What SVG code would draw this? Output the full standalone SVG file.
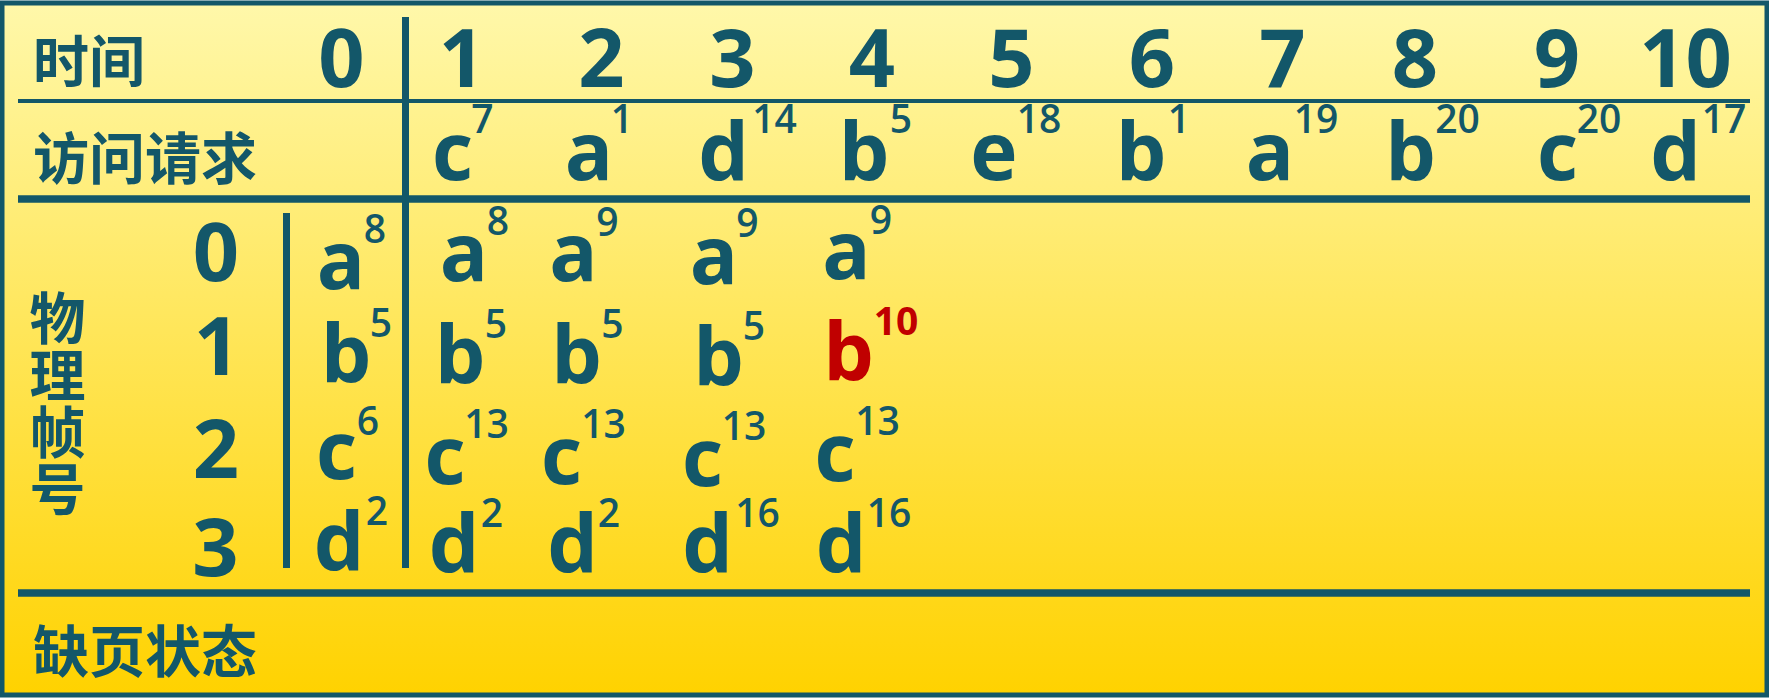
<svg xmlns="http://www.w3.org/2000/svg" width="1769" height="698" viewBox="0 0 1769 698">
<defs>
<linearGradient id="bg" x1="0" y1="0" x2="0" y2="1">
<stop offset="0" stop-color="#FFF8AA"/>
<stop offset="1" stop-color="#FFD200"/>
</linearGradient>
<style>
.ln{stroke:#135769;fill:none}
.t{fill:#135769;font-family:"Open Sans","Liberation Sans",sans-serif;font-weight:700;text-anchor:middle}
.L{font-size:80px}
.D{font-size:81px}
.s{font-size:39px;font-weight:600}
.r{fill:#C00000}
.rs{font-weight:700}
.cjk{fill:#135769;font-family:"Noto Sans CJK SC","Noto Sans CJK TC",sans-serif;font-size:56px;font-weight:700}
.vt{writing-mode:vertical-rl;letter-spacing:1px}
</style>
</defs>
<rect id="frame" x="2" y="3" width="1765" height="692" fill="url(#bg)" stroke="#135769" stroke-width="5"/>
<g id="connectors">
<line class="ln" x1="18" y1="101" x2="1750" y2="101" stroke-width="4"/>
<line class="ln" x1="18" y1="199" x2="1750" y2="199" stroke-width="7.5"/>
<line class="ln" x1="18" y1="593" x2="1750" y2="593" stroke-width="7.5"/>
<line class="ln" x1="405.5" y1="17" x2="405.5" y2="568" stroke-width="7"/>
<line class="ln" x1="286.5" y1="213" x2="286.5" y2="568" stroke-width="7"/>
</g>
<g id="labels">
<text class="cjk" x="33" y="82">时间</text>
<text class="cjk" x="33" y="179">访问请求</text>
<text class="cjk" x="33" y="672">缺页状态</text>
<text class="cjk vt" x="57.5" y="290">物理帧号</text>
</g>
<g id="time">
<text class="t D" x="341.5" y="87">0</text>
<text class="t D" x="462" y="87">1</text>
<text class="t D" x="601.5" y="87">2</text>
<text class="t D" x="732.5" y="87">3</text>
<text class="t D" x="872" y="87">4</text>
<text class="t D" x="1011.5" y="87">5</text>
<text class="t D" x="1152" y="87">6</text>
<text class="t D" x="1282.5" y="87">7</text>
<text class="t D" x="1415" y="87">8</text>
<text class="t D" x="1557" y="87">9</text>
<text class="t D" x="1685.5" y="87">10</text>
</g>
<g id="requests">
<text class="t L" x="452.5" y="180">c<tspan class="s" x="482.5" y="133">7</tspan></text>
<text class="t L" x="589" y="180">a<tspan class="s" x="622" y="133">1</tspan></text>
<text class="t L" x="723.5" y="180">d<tspan class="s" x="774.5" y="133">14</tspan></text>
<text class="t L" x="864" y="180">b<tspan class="s" x="901" y="133">5</tspan></text>
<text class="t L" x="994" y="180">e<tspan class="s" x="1039" y="133">18</tspan></text>
<text class="t L" x="1141" y="180">b<tspan class="s" x="1179" y="133">1</tspan></text>
<text class="t L" x="1270" y="180">a<tspan class="s" x="1316" y="133">19</tspan></text>
<text class="t L" x="1410.5" y="180">b<tspan class="s" x="1457.5" y="133">20</tspan></text>
<text class="t L" x="1557.5" y="180">c<tspan class="s" x="1599" y="133">20</tspan></text>
<text class="t L" x="1675.5" y="180">d<tspan class="s" x="1724" y="133">17</tspan></text>
</g>
<g id="frame-numbers">
<text class="t D" x="216" y="281">0</text>
<text class="t D" x="217" y="375">1</text>
<text class="t D" x="216" y="478">2</text>
<text class="t D" x="215.5" y="576">3</text>
</g>
<g id="col0">
<text class="t L" x="341" y="289">a<tspan class="s" x="375" y="243">8</tspan></text>
<text class="t L" x="346" y="382">b<tspan class="s" x="381" y="337">5</tspan></text>
<text class="t L" x="336.5" y="479">c<tspan class="s" x="368" y="435">6</tspan></text>
<text class="t L" x="339" y="570">d<tspan class="s" x="377" y="525">2</tspan></text>
</g>
<g id="col1">
<text class="t L" x="464" y="281">a<tspan class="s" x="498" y="235">8</tspan></text>
<text class="t L" x="460" y="383">b<tspan class="s" x="496" y="338">5</tspan></text>
<text class="t L" x="445" y="484">c<tspan class="s" x="486.5" y="438">13</tspan></text>
<text class="t L" x="454" y="572">d<tspan class="s" x="492" y="527">2</tspan></text>
</g>
<g id="col2">
<text class="t L" x="573.5" y="281">a<tspan class="s" x="607.5" y="236">9</tspan></text>
<text class="t L" x="576.5" y="383">b<tspan class="s" x="612.5" y="338">5</tspan></text>
<text class="t L" x="561.5" y="484">c<tspan class="s" x="603.5" y="438">13</tspan></text>
<text class="t L" x="572.5" y="572">d<tspan class="s" x="609" y="527">2</tspan></text>
</g>
<g id="col3">
<text class="t L" x="714" y="284">a<tspan class="s" x="747.5" y="237">9</tspan></text>
<text class="t L" x="718.5" y="385">b<tspan class="s" x="754" y="340">5</tspan></text>
<text class="t L" x="702.5" y="486">c<tspan class="s" x="744" y="440">13</tspan></text>
<text class="t L" x="707.5" y="572">d<tspan class="s" x="757.5" y="527">16</tspan></text>
</g>
<g id="col4">
<text class="t L" x="846.5" y="279">a<tspan class="s" x="881" y="234">9</tspan></text>
<text class="t L r" x="848.5" y="380">b<tspan class="s rs" x="896" y="335">10</tspan></text>
<text class="t L" x="835" y="481">c<tspan class="s" x="877.5" y="435">13</tspan></text>
<text class="t L" x="841" y="572">d<tspan class="s" x="889" y="527">16</tspan></text>
</g>
</svg>
